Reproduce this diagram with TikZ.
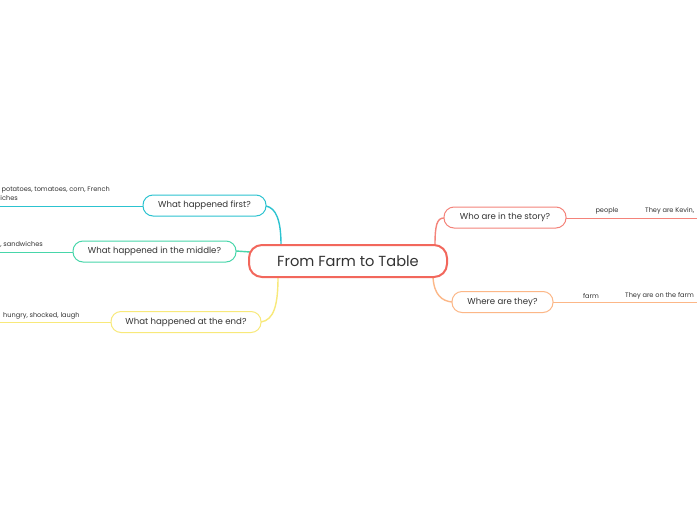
\documentclass[tikz,border=0pt]{standalone}
\usepackage{fontspec}
\setmainfont{Poppins}
\usetikzlibrary{calc}

\definecolor{rootred}{HTML}{F2675C}
\definecolor{whored}{HTML}{F4837A}
\definecolor{whereorange}{HTML}{FCB787}
\definecolor{firstcyan}{HTML}{2CC3D0}
\definecolor{middlegreen}{HTML}{48D6AA}
\definecolor{endyellow}{HTML}{F8E97A}
\definecolor{textgray}{HTML}{333333}

\tikzset{
  root/.style={draw=rootred, line width=2pt, rounded corners=13pt, fill=white,
    minimum width=198pt, minimum height=32pt, inner sep=0pt,
    text=textgray, font=\fontsize{14.6}{16}\selectfont},
  topic/.style={draw=#1, line width=1pt, rounded corners=10pt, fill=white,
    minimum height=21pt, inner sep=0pt, text=textgray,
    font=\fontsize{8.6}{10}\selectfont},
  branch/.style={draw=#1, line width=1.4pt},
  leafline/.style={draw=#1, line width=1pt},
  leaf/.style={inner sep=0pt, text=textgray, font=\fontsize{6.6}{8}\selectfont},
}

\begin{document}
\begin{tikzpicture}[x=1pt, y=-1pt]
  \useasboundingbox (0,0) rectangle (697,520);
  \clip (0,0) rectangle (697,520);
  \fill[white] (0,0) rectangle (697,520);

  % Free ends of the leaf lines
  \coordinate (firstend) at (0,206);
  \coordinate (middleend) at (0,252);
  \coordinate (endend) at (0,322);
  \coordinate (whoend) at (697,218);
  \coordinate (whereend) at (697,302);

  % Leaf lines (under the boxes)
  \draw[leafline=firstcyan] (143,206) -- (firstend);
  \draw[leafline=middlegreen] (73,252) -- (middleend);
  \draw[leafline=endyellow] (111,322) -- (endend);
  \draw[leafline=whored] (566,218) -- (whoend);
  \draw[leafline=whereorange] (553,302) -- (whereend);

  % Branches from the central topic
  \draw[branch=firstcyan] (266,206) .. controls (276,208) and (281,220) .. (281,245);
  \draw[branch=middlegreen] (236,251) -- (250,252);
  \draw[branch=endyellow] (278,277) .. controls (278,305) and (274,320) .. (261,322);
  \draw[branch=whored] (435,245) .. controls (435,225) and (437,218) .. (444,218);
  \draw[branch=whereorange] (433,277) .. controls (434,295) and (442,301) .. (452,302);

  % Central topic
  \node[root] (root) at (348,261) {From Farm to Table};

  % Main topics
  \node[topic=firstcyan, minimum width=123pt] (first) at (204.5,205.5) {What happened first?};
  \node[topic=middlegreen, minimum width=163pt] (middle) at (154.5,251.5) {What happened in the middle?};
  \node[topic=endyellow, minimum width=150pt] (end) at (186,322) {What happened at the end?};
  \node[topic=whored, minimum width=122pt] (who) at (505,217.5) {Who are in the story?};
  \node[topic=whereorange, minimum width=101pt] (where) at (502.5,302) {Where are they?};

  % Leaf texts
  \node[leaf, anchor=east] (firsta) at (110,189.5) {potatoes, tomatoes, corn, French};
  \node[leaf, anchor=east] (firstb) at (18,198.5) {sandwiches};
  \node[leaf, anchor=east] (middlea) at (43,244.5) {, sandwiches};
  \node[leaf, anchor=west] (enda) at (3,315.5) {hungry, shocked, laugh};
  \node[leaf] (whoa) at (607,211) {people};
  \node[leaf, anchor=west] (whob) at (645,211) {They are Kevin,};
  \node[leaf] (wherea) at (591,296) {farm};
  \node[leaf, anchor=west] (whereb) at (625,296) {They are on the farm};
\end{tikzpicture}
\end{document}
